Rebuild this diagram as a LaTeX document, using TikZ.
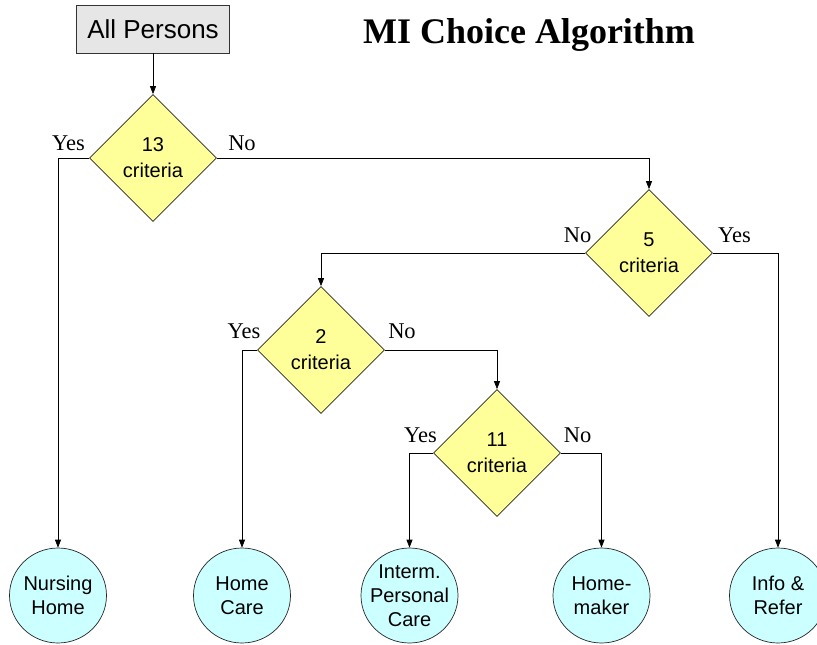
\documentclass[tikz,border=0pt]{standalone}
\usepackage{fontspec}
\setmainfont{Liberation Serif}
\newfontfamily\arial{Liberation Sans}
\usetikzlibrary{shapes.geometric,arrows.meta}
\definecolor{dfill}{HTML}{FFFF99}
\definecolor{efill}{HTML}{CCFFFF}
\definecolor{bfill}{HTML}{E6E6E6}
\tikzset{
  startbox/.style={draw=black!80, fill=bfill, line width=0.8pt, minimum width=153pt, minimum height=48pt, inner sep=0pt, font=\arial\fontsize{26}{30}\selectfont},
  decbox/.style={diamond, draw=black!85, fill=dfill, line width=0.7pt, minimum width=127pt, minimum height=127pt, inner sep=0pt, align=center, font=\arial\fontsize{20}{26}\selectfont},
  endnode/.style={ellipse, draw=black!85, fill=efill, line width=0.7pt, minimum width=97pt, minimum height=95pt, inner sep=0pt},
  etext/.style={align=center, inner sep=0pt, font=\arial\fontsize{20}{24}\selectfont},
  lbl/.style={anchor=base, inner sep=0pt, font=\fontsize{22.5}{26}\selectfont},
  arr/.style={draw=black, line width=0.7pt, -{Triangle[length=8pt,width=6pt]}},
}
\begin{document}
\begin{tikzpicture}[x=1pt,y=-1pt]
\useasboundingbox (0,0) rectangle (817,645);
\node[startbox] (ap) at (153,29) {All Persons};
\node[anchor=base, inner sep=0pt, font=\bfseries\fontsize{36}{40}\selectfont] (title) at (529,43) {MI Choice Algorithm};
\node[decbox] (d13) at (153,158) {13\\criteria};
\node[decbox] (d5) at (649,253) {5\\criteria};
\node[decbox] (d2) at (321,350) {2\\criteria};
\node[decbox] (d11) at (497,453) {11\\criteria};
\node[endnode, label={[etext]center:{Nursing\\Home}}] (nh) at (58,595.5) {};
\node[endnode, label={[etext]center:{Home\\Care}}] (hc) at (242,595.5) {};
\node[endnode, label={[etext]center:{Interm.\\Personal\\Care}}] (ipc) at (409.5,595.5) {};
\node[endnode, label={[etext]center:{Home-\\maker}}] (hm) at (601.5,595.5) {};
\node[endnode, label={[etext]center:{Info \&\\Refer}}] (ir) at (778,595.5) {};
\draw[arr] (ap) -- (d13);
\draw[arr] (d13.west) -| (nh.north);
\draw[arr] (d13.east) -| (d5.north);
\draw[arr] (d5.west) -| (d2.north);
\draw[arr] (d5.east) -| (ir.north);
\draw[arr] (d2.west) -| (hc.north);
\draw[arr] (d2.east) -| (d11.north);
\draw[arr] (d11.west) -| (ipc.north);
\draw[arr] (d11.east) -| (hm.north);
\node[lbl] (y13) at (68.5,150) {Yes};
\node[lbl] (n13) at (242,150) {No};
\node[lbl] (n5) at (577.5,242) {No};
\node[lbl] (y5) at (734.5,242) {Yes};
\node[lbl] (y2) at (244,338) {Yes};
\node[lbl] (n2) at (402,338) {No};
\node[lbl] (y11) at (420.5,442) {Yes};
\node[lbl] (n11) at (577.5,442) {No};
\end{tikzpicture}
\end{document}
